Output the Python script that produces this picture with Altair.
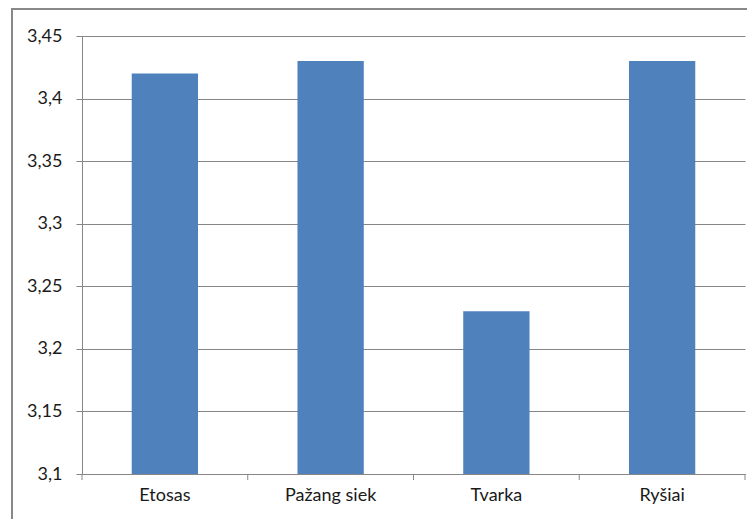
import altair as alt
import pandas as pd

categories = ["Etosas", "Pažang siek", "Tvarka", "Ryšiai"]
values = [3.42, 3.43, 3.23, 3.43]
y_ticks = [3.1, 3.15, 3.2, 3.25, 3.3, 3.35, 3.4, 3.45]

df = pd.DataFrame({"cat": categories, "val": values})

W, H = 663, 438
GRAY = "#868686"

x_enc = alt.X(
    "cat:N", sort=categories, title=None,
    scale=alt.Scale(paddingInner=0.6, paddingOuter=0.3),
    axis=alt.Axis(labelAngle=0, labelFont="Lato", labelFontSize=18, labelColor="#1a1a1a",
                  labelPadding=12, domainColor=GRAY, ticks=False, grid=False),
)
y_enc = alt.Y(
    "val:Q", title=None,
    scale=alt.Scale(domain=[3.1, 3.45], nice=False, zero=False),
    axis=alt.Axis(values=y_ticks, labelExpr="replace(format(datum.value, '.2~f'), '.', ',')",
                  labelFont="Lato", labelFontSize=18, labelColor="#1a1a1a", labelPadding=14,
                  domainColor=GRAY, tickColor=GRAY, tickSize=6,
                  grid=True, gridColor=GRAY, gridWidth=1),
)

bars = alt.Chart(df).mark_bar(color="#4F81BD", clip=True).encode(
    x=x_enc, y=y_enc, y2=alt.datum(3.1)
)

tick_x = alt.X("cat:N", sort=categories, bandPosition=0,
               scale=alt.Scale(paddingInner=0, paddingOuter=0), axis=None)
xticks = alt.Chart(df).mark_rule(color=GRAY, strokeWidth=1).encode(
    x=tick_x, y=alt.value(H), y2=alt.value(H + 6)
)
tick_x_end = alt.X("cat:N", sort=categories, bandPosition=1,
                   scale=alt.Scale(paddingInner=0, paddingOuter=0), axis=None)
xtick_end = alt.Chart(df).transform_filter(
    alt.datum.cat == categories[-1]
).mark_rule(color=GRAY, strokeWidth=1).encode(
    x=tick_x_end, y=alt.value(H), y2=alt.value(H + 6)
)
tick_layer = alt.layer(xticks, xtick_end)

frame = alt.Chart(df).transform_filter(
    alt.datum.cat == categories[0]
).mark_rect(fill=None, stroke="#888888", strokeWidth=2).encode(
    x=alt.value(-70), x2=alt.value(W + 60), y=alt.value(-27), y2=alt.value(H + 80)
)

chart = alt.layer(bars, tick_layer, frame).resolve_scale(x="independent").properties(
    width=W, height=H,
    autosize=alt.AutoSizeParams(type="none"),
    padding={"left": 74, "top": 28, "right": 2, "bottom": 45},
).configure_view(stroke=None)

chart.save("out.html", embed_options={"renderer": "svg", "actions": False})
